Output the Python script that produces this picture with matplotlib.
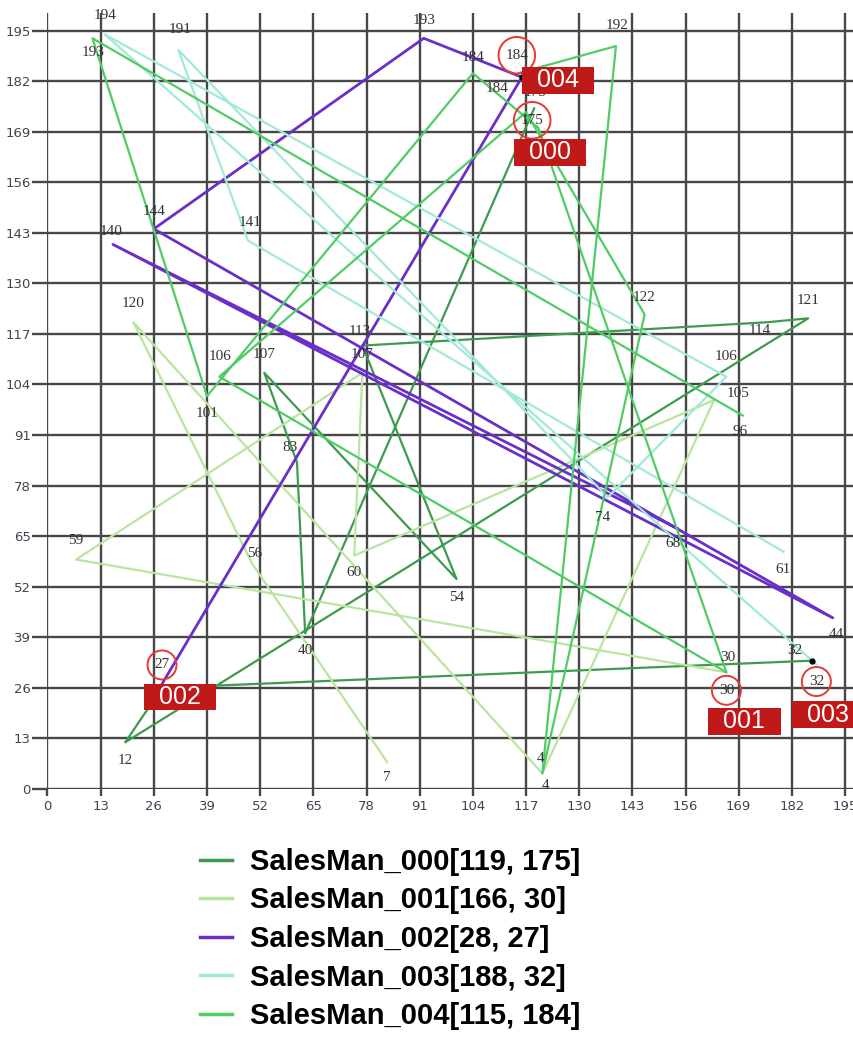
import matplotlib.pyplot as plt
import numpy as np

# route data (x, y of every visited point, first = depot)
sm000_x = [119, 63, 61, 53, 100, 77, 176, 186, 19, 28, 187]
sm000_y = [175, 40, 84, 107, 54, 114, 120, 121, 12, 26, 33]
sm000_lab = ['', '40', '83', '107', '54', '113', '114', '121', '12', '', '32']

sm001_x = [166, 7, 77, 75, 163, 121, 21, 50, 83]
sm001_y = [30, 59, 107, 60, 100, 4, 120, 58, 7]
sm001_lab = ['', '59', '107', '60', '105', '4', '120', '56', '7']

sm002_x = [28, 116, 92, 26, 192, 16, 154]
sm002_y = [27, 183, 193, 144, 44, 140, 67]
sm002_lab = ['', '184', '193', '144', '44', '140', '68']

sm003_x = [188, 14, 166, 137, 32, 49, 180]
sm003_y = [32, 194, 106, 75, 190, 141, 61]
sm003_lab = ['', '194', '106', '74', '191', '141', '61']

sm004_x = [115, 139, 121, 146, 117, 42, 166, 120, 104, 39, 11, 170]
sm004_y = [184, 191, 4, 122, 174, 106, 30, 170, 184, 101, 193, 96]
sm004_lab = ['', '192', '4', '122', '175', '106', '30', '', '184', '101', '193', '96']

names = ['SalesMan_000', 'SalesMan_001', 'SalesMan_002', 'SalesMan_003', 'SalesMan_004']
depot_tags = ['000', '001', '002', '003', '004']

# styling
colors = ['#3d9b4f', '#b9e5a1', '#6a2fc6', '#a3e9da', '#4fcc64']
widths = [1.6, 1.6, 2.0, 1.6, 1.6]
# label offsets in pixels for each point (style only)
off000 = [None, (0, -17), (-7, 15), (0, 18), (0, -19), (-3, 14), (-8, -8), (0, 18), (0, -18), None, (-17, 10)]
off001 = [None, (0, 19), (0, 18), (0, -17), (24, 7), (-2, 15), (0, 19), (3, 10), (0, -16)]
off002 = [None, (-25, -11), (0, 18), (0, 17), (4, -17), (-2, 13), (-4, -15)]
off003 = [None, (0, 19), (0, 20), (-5, -20), (2, 20), (2, 18), (-1, -18)]
off004 = [None, (1, 21), (3, -12), (0, 17), (9, 20), (1, 20), (1, 15), None, (0, 16), (0, -17), (1, -14), (-3, -16)]
circle_off = [(-2, -12), (0, -18), (0, 19), (0, -17), (-1, 18)]
box_off = [(16, -44), (18, -49), (18, -13), (12, -50), (40, -7)]

xs = [sm000_x, sm001_x, sm002_x, sm003_x, sm004_x]
ys = [sm000_y, sm001_y, sm002_y, sm003_y, sm004_y]
labs = [sm000_lab, sm001_lab, sm002_lab, sm003_lab, sm004_lab]
offs = [off000, off001, off002, off003, off004]

fig = plt.figure(figsize=(8.54, 10.37), dpi=100)
ax = fig.add_axes([47.5 / 854, 1 - 789 / 1037, 806.5 / 854, 776 / 1037])
ax.set_xlim(0, 197.2)
ax.set_ylim(0, 199.5)

ticks = np.arange(0, 196, 13)
ax.set_xticks(ticks)
ax.set_yticks(ticks)
ax.grid(True, color='#474747', lw=1.7, zorder=0)
ax.set_axisbelow(True)
for s in ax.spines.values():
    s.set_visible(False)
ax.tick_params(axis='y', length=11, width=1.7, color='#474747', labelsize=9.5,
               labelcolor='#3c4650', pad=1)
ax.tick_params(axis='x', length=5, width=1.7, color='#474747', labelsize=9.5,
               labelcolor='#3c4650', pad=3)

handles = []
for i in range(5):
    lbl = f'{names[i]}[{xs[i][0]}, {ys[i][0]}]'
    h, = ax.plot(xs[i], ys[i], color=colors[i], lw=widths[i], label=lbl,
                 zorder=3, clip_on=False)
    handles.append(h)
    for x, y, t, o in zip(xs[i], ys[i], labs[i], offs[i]):
        if t and o is not None:
            ax.annotate(t, (x, y), xytext=o, textcoords='offset pixels',
                        ha='center', va='center', fontsize=11,
                        family='Liberation Serif', color='#333333', zorder=5)

# end markers
ax.plot(sm002_x[1], sm002_y[1], 'o', color='black', ms=3.5, zorder=6)
ax.plot(sm000_x[-1], sm000_y[-1], 'o', color='black', ms=3.5, zorder=6)

# depot marks: circled label + red tag
for i in range(5):
    x0, y0 = xs[i][0], ys[i][0]
    ax.annotate(str(y0), (x0, y0), xytext=circle_off[i], textcoords='offset pixels',
                ha='center', va='center', fontsize=11, family='Liberation Serif',
                color='#333333', zorder=7,
                bbox=dict(boxstyle='circle,pad=0.45', fc='none', ec='#e53935', lw=1.4))
    ax.annotate('  ' + depot_tags[i] + '  ', (x0, y0), xytext=box_off[i],
                textcoords='offset pixels', ha='center', va='center', fontsize=18,
                family='Liberation Sans', color='white', zorder=8, annotation_clip=False,
                bbox=dict(boxstyle='square,pad=0.05', fc='#c0191a', ec='none'))

fig.legend(handles=handles, loc='upper left', bbox_to_anchor=(200 / 854, 1 - 848 / 1037),
           frameon=False, borderpad=0, borderaxespad=0, handlelength=1.1,
           handletextpad=0.6, labelspacing=0.36,
           prop={'family': 'Liberation Sans', 'weight': 'bold', 'size': 21})
for h in fig.legends[0].get_lines():
    h.set_linewidth(2.5)

fig.savefig('out.png', dpi=100)
